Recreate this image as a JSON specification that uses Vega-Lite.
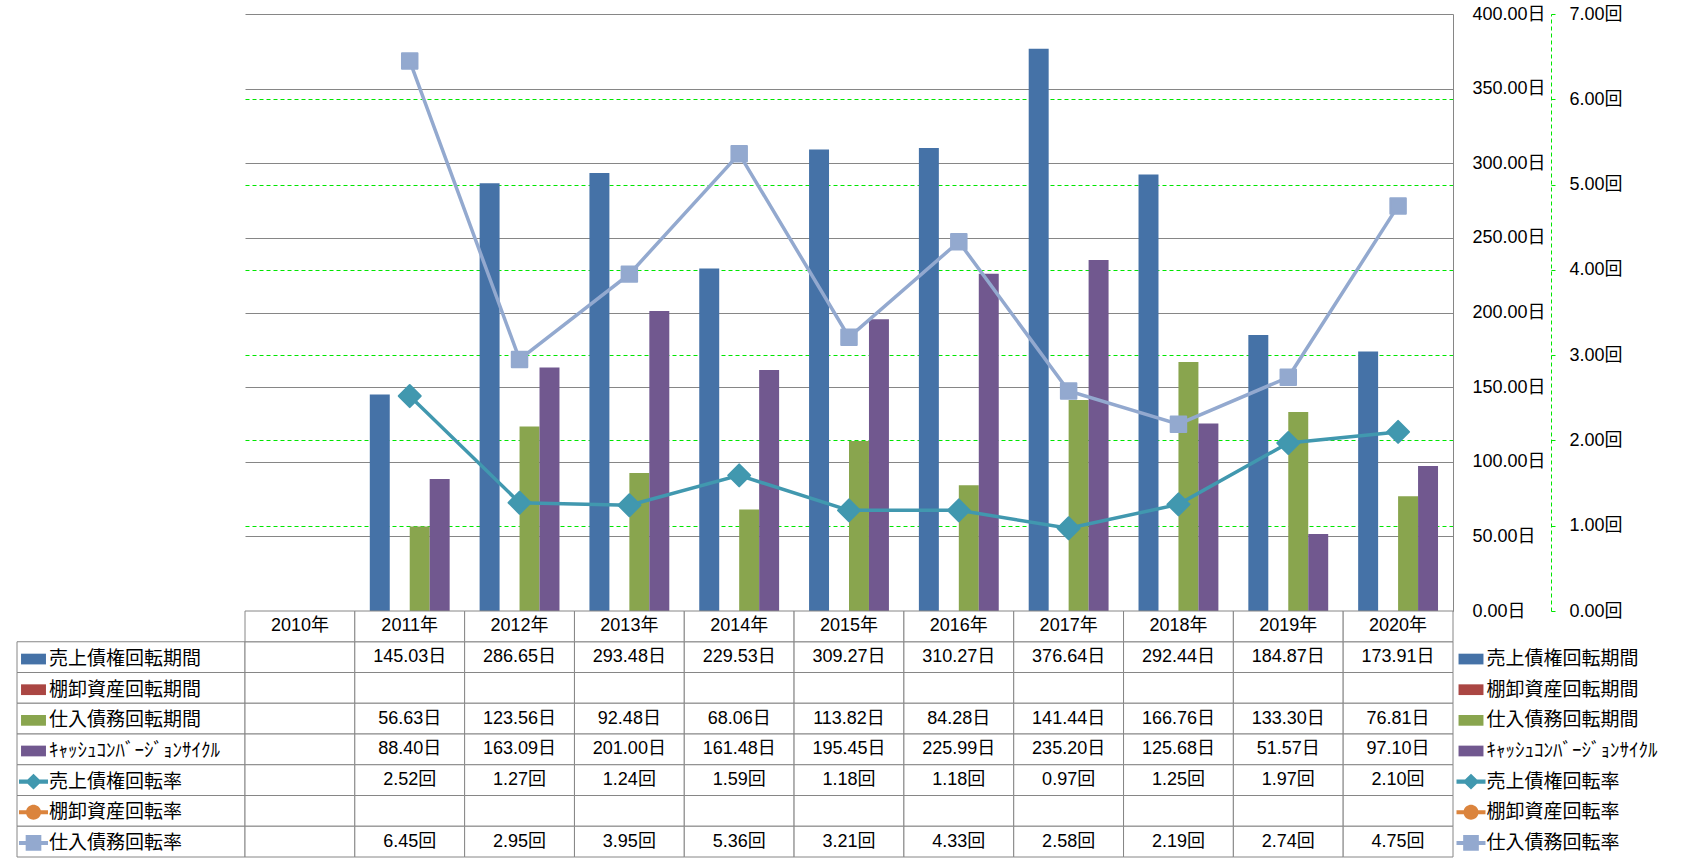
{
  "$schema": "https://vega.github.io/schema/vega-lite/v6.json",
  "padding": {"left": 16, "top": 5, "right": 0, "bottom": 0},
  "background": "white",
  "config": {"view": {"stroke": null}, "font": "Liberation Sans"},
  "columns": 2,
  "spacing": 0,
  "bounds": "flush",
  "resolve": {"scale": {"color": "independent", "shape": "independent"}, "legend": {"color": "independent", "shape": "independent"}},
  "datasets": {
    "main": [
      {"year": "2010年", "series": "売上債権回転期間", "v": null},
      {"year": "2011年", "series": "売上債権回転期間", "v": 145.03},
      {"year": "2012年", "series": "売上債権回転期間", "v": 286.65},
      {"year": "2013年", "series": "売上債権回転期間", "v": 293.48},
      {"year": "2014年", "series": "売上債権回転期間", "v": 229.53},
      {"year": "2015年", "series": "売上債権回転期間", "v": 309.27},
      {"year": "2016年", "series": "売上債権回転期間", "v": 310.27},
      {"year": "2017年", "series": "売上債権回転期間", "v": 376.64},
      {"year": "2018年", "series": "売上債権回転期間", "v": 292.44},
      {"year": "2019年", "series": "売上債権回転期間", "v": 184.87},
      {"year": "2020年", "series": "売上債権回転期間", "v": 173.91},
      {"year": "2010年", "series": "棚卸資産回転期間", "v": null},
      {"year": "2011年", "series": "棚卸資産回転期間", "v": null},
      {"year": "2012年", "series": "棚卸資産回転期間", "v": null},
      {"year": "2013年", "series": "棚卸資産回転期間", "v": null},
      {"year": "2014年", "series": "棚卸資産回転期間", "v": null},
      {"year": "2015年", "series": "棚卸資産回転期間", "v": null},
      {"year": "2016年", "series": "棚卸資産回転期間", "v": null},
      {"year": "2017年", "series": "棚卸資産回転期間", "v": null},
      {"year": "2018年", "series": "棚卸資産回転期間", "v": null},
      {"year": "2019年", "series": "棚卸資産回転期間", "v": null},
      {"year": "2020年", "series": "棚卸資産回転期間", "v": null},
      {"year": "2010年", "series": "仕入債務回転期間", "v": null},
      {"year": "2011年", "series": "仕入債務回転期間", "v": 56.63},
      {"year": "2012年", "series": "仕入債務回転期間", "v": 123.56},
      {"year": "2013年", "series": "仕入債務回転期間", "v": 92.48},
      {"year": "2014年", "series": "仕入債務回転期間", "v": 68.06},
      {"year": "2015年", "series": "仕入債務回転期間", "v": 113.82},
      {"year": "2016年", "series": "仕入債務回転期間", "v": 84.28},
      {"year": "2017年", "series": "仕入債務回転期間", "v": 141.44},
      {"year": "2018年", "series": "仕入債務回転期間", "v": 166.76},
      {"year": "2019年", "series": "仕入債務回転期間", "v": 133.30},
      {"year": "2020年", "series": "仕入債務回転期間", "v": 76.81},
      {"year": "2010年", "series": "ｷｬｯｼｭｺﾝﾊﾞｰｼﾞｮﾝｻｲｸﾙ", "v": null},
      {"year": "2011年", "series": "ｷｬｯｼｭｺﾝﾊﾞｰｼﾞｮﾝｻｲｸﾙ", "v": 88.40},
      {"year": "2012年", "series": "ｷｬｯｼｭｺﾝﾊﾞｰｼﾞｮﾝｻｲｸﾙ", "v": 163.09},
      {"year": "2013年", "series": "ｷｬｯｼｭｺﾝﾊﾞｰｼﾞｮﾝｻｲｸﾙ", "v": 201.00},
      {"year": "2014年", "series": "ｷｬｯｼｭｺﾝﾊﾞｰｼﾞｮﾝｻｲｸﾙ", "v": 161.48},
      {"year": "2015年", "series": "ｷｬｯｼｭｺﾝﾊﾞｰｼﾞｮﾝｻｲｸﾙ", "v": 195.45},
      {"year": "2016年", "series": "ｷｬｯｼｭｺﾝﾊﾞｰｼﾞｮﾝｻｲｸﾙ", "v": 225.99},
      {"year": "2017年", "series": "ｷｬｯｼｭｺﾝﾊﾞｰｼﾞｮﾝｻｲｸﾙ", "v": 235.20},
      {"year": "2018年", "series": "ｷｬｯｼｭｺﾝﾊﾞｰｼﾞｮﾝｻｲｸﾙ", "v": 125.68},
      {"year": "2019年", "series": "ｷｬｯｼｭｺﾝﾊﾞｰｼﾞｮﾝｻｲｸﾙ", "v": 51.57},
      {"year": "2020年", "series": "ｷｬｯｼｭｺﾝﾊﾞｰｼﾞｮﾝｻｲｸﾙ", "v": 97.10},
      {"year": "2010年", "series": "売上債権回転率", "v": null},
      {"year": "2011年", "series": "売上債権回転率", "v": 2.52},
      {"year": "2012年", "series": "売上債権回転率", "v": 1.27},
      {"year": "2013年", "series": "売上債権回転率", "v": 1.24},
      {"year": "2014年", "series": "売上債権回転率", "v": 1.59},
      {"year": "2015年", "series": "売上債権回転率", "v": 1.18},
      {"year": "2016年", "series": "売上債権回転率", "v": 1.18},
      {"year": "2017年", "series": "売上債権回転率", "v": 0.97},
      {"year": "2018年", "series": "売上債権回転率", "v": 1.25},
      {"year": "2019年", "series": "売上債権回転率", "v": 1.97},
      {"year": "2020年", "series": "売上債権回転率", "v": 2.10},
      {"year": "2010年", "series": "棚卸資産回転率", "v": null},
      {"year": "2011年", "series": "棚卸資産回転率", "v": null},
      {"year": "2012年", "series": "棚卸資産回転率", "v": null},
      {"year": "2013年", "series": "棚卸資産回転率", "v": null},
      {"year": "2014年", "series": "棚卸資産回転率", "v": null},
      {"year": "2015年", "series": "棚卸資産回転率", "v": null},
      {"year": "2016年", "series": "棚卸資産回転率", "v": null},
      {"year": "2017年", "series": "棚卸資産回転率", "v": null},
      {"year": "2018年", "series": "棚卸資産回転率", "v": null},
      {"year": "2019年", "series": "棚卸資産回転率", "v": null},
      {"year": "2020年", "series": "棚卸資産回転率", "v": null},
      {"year": "2010年", "series": "仕入債務回転率", "v": null},
      {"year": "2011年", "series": "仕入債務回転率", "v": 6.45},
      {"year": "2012年", "series": "仕入債務回転率", "v": 2.95},
      {"year": "2013年", "series": "仕入債務回転率", "v": 3.95},
      {"year": "2014年", "series": "仕入債務回転率", "v": 5.36},
      {"year": "2015年", "series": "仕入債務回転率", "v": 3.21},
      {"year": "2016年", "series": "仕入債務回転率", "v": 4.33},
      {"year": "2017年", "series": "仕入債務回転率", "v": 2.58},
      {"year": "2018年", "series": "仕入債務回転率", "v": 2.19},
      {"year": "2019年", "series": "仕入債務回転率", "v": 2.74},
      {"year": "2020年", "series": "仕入債務回転率", "v": 4.75}
    ]
  },
  "concat": [
    {
      "width": 228, "height": 597,
      "data": {"values": [{"k": ""}]},
      "mark": {"type": "text"},
      "encoding": {"text": {"field": "k"}}
    },
    {
      "width": 1208, "height": 597,
      "data": {"name": "main"},
      "encoding": {
        "x": {"field": "year", "type": "nominal", "scale": {"domain": ["2010年","2011年","2012年","2013年","2014年","2015年","2016年","2017年","2018年","2019年","2020年"], "paddingInner": 0, "paddingOuter": 0}, "axis": null}
      },
      "layer": [
        {
          "transform": [{"filter": "datum.v != null && !test(/率$/, datum.series)"}],
          "mark": {"type": "bar"},
          "encoding": {
            "xOffset": {"field": "series", "type": "nominal", "scale": {"domain": ["売上債権回転期間","棚卸資産回転期間","仕入債務回転期間","ｷｬｯｼｭｺﾝﾊﾞｰｼﾞｮﾝｻｲｸﾙ"], "paddingInner": 0, "paddingOuter": 0.75}},
            "y": {"field": "v", "type": "quantitative", "scale": {"domain": [0, 400], "nice": false},
              "axis": {"orient": "right", "values": [0,50,100,150,200,250,300,350,400], "labelExpr": "format(datum.value, '.2f') + '日'", "title": null,
                "grid": true, "gridColor": "#868686", "gridWidth": 1,
                "domain": true, "domainColor": "#868686", "domainWidth": 1,
                "ticks": false, "tickSize": 0, "labelPadding": 19, "labelAlign": "left",
                "labelFont": "Liberation Sans, Noto Sans CJK JP", "labelFontSize": 18, "labelColor": "#000000", "labelOverlap": false, "labelFlush": false, "labelBound": false}},
            "color": {"field": "series", "type": "nominal", "scale": {"domain": ["売上債権回転期間","棚卸資産回転期間","仕入債務回転期間","ｷｬｯｼｭｺﾝﾊﾞｰｼﾞｮﾝｻｲｸﾙ","売上債権回転率","棚卸資産回転率","仕入債務回転率"], "range": ["#4572A7","#AA4643","#89A54E","#71588F","#4198AF","#DB843D","#93A9CF"]}, "legend": null}
          }
        },
        {
          "transform": [{"filter": "datum.v != null && test(/率$/, datum.series)"}],
          "encoding": {
            "y": {"field": "v", "type": "quantitative", "scale": {"domain": [0, 7], "nice": false},
              "axis": {"orient": "right", "offset": 98, "values": [0,1,2,3,4,5,6,7], "labelExpr": "format(datum.value, '.2f') + '回'", "title": null,
                "grid": true, "gridColor": "#00E600", "gridWidth": 1, "gridDash": [4, 3],
                "gridOpacity": {"condition": {"test": "datum.value == 0 || datum.value == 7", "value": 0}, "value": 1},
                "domain": true, "domainColor": "#00E600", "domainWidth": 1, "domainDash": [4, 3],
                "ticks": true, "tickColor": "#00E600", "tickSize": 4, "tickWidth": 1,
                "labelPadding": 14, "labelAlign": "left",
                "labelFont": "Liberation Sans, Noto Sans CJK JP", "labelFontSize": 18, "labelColor": "#000000", "labelOverlap": false, "labelFlush": false, "labelBound": false}}
          },
          "layer": [
            {
              "mark": {"type": "line", "strokeWidth": 3.5},
              "encoding": {"color": {"field": "series", "type": "nominal", "scale": {"domain": ["売上債権回転期間","棚卸資産回転期間","仕入債務回転期間","ｷｬｯｼｭｺﾝﾊﾞｰｼﾞｮﾝｻｲｸﾙ","売上債権回転率","棚卸資産回転率","仕入債務回転率"], "range": ["#4572A7","#AA4643","#89A54E","#71588F","#4198AF","#DB843D","#93A9CF"]}, "legend": null}}
            },
            {
              "transform": [{"filter": "datum.series == '売上債権回転率'"}],
              "mark": {"type": "point", "shape": "diamond", "filled": true, "fill": "#4198AF", "stroke": "#4198AF", "strokeWidth": 2, "strokeJoin": "round", "size": 484, "opacity": 1}
            },
            {
              "transform": [{"filter": "datum.series == '仕入債務回転率'"}],
              "mark": {"type": "point", "shape": "square", "filled": true, "fill": "#93A9CF", "stroke": "#93A9CF", "strokeWidth": 2, "strokeJoin": "round", "size": 240, "opacity": 1}
            }
          ]
        }
      ],
      "resolve": {"scale": {"y": "independent"}}
    },
    {
      "width": 228, "height": 246,
      "data": {"name": "main"},
      "transform": [{"filter": "datum.year == '2010年'"}],
      "encoding": {
        "y": {"field": "series", "type": "nominal", "scale": {"domain": ["hdr","売上債権回転期間","棚卸資産回転期間","仕入債務回転期間","ｷｬｯｼｭｺﾝﾊﾞｰｼﾞｮﾝｻｲｸﾙ","売上債権回転率","棚卸資産回転率","仕入債務回転率"], "paddingInner": 0, "paddingOuter": 0}, "axis": null}
      },
      "layer": [
        {
          "mark": {"type": "point", "filled": true, "opacity": 1},
          "encoding": {
            "color": {"field": "series", "type": "nominal", "scale": {"domain": ["売上債権回転期間","棚卸資産回転期間","仕入債務回転期間","ｷｬｯｼｭｺﾝﾊﾞｰｼﾞｮﾝｻｲｸﾙ","売上債権回転率","棚卸資産回転率","仕入債務回転率"], "range": ["#4572A7","#AA4643","#89A54E","#71588F","#4198AF","#DB843D","#93A9CF"]},
              "legend": {"orient": "none", "legendX": 2, "legendY": 33.55, "direction": "vertical", "title": null, "padding": 0, "rowPadding": 5.65, "symbolSize": 841, "symbolStrokeWidth": 0, "symbolOpacity": 1, "labelFont": "Noto Sans CJK JP", "labelFontSize": 19, "labelColor": "#000000", "labelOffset": 1, "labelLimit": 400}},
            "shape": {"field": "series", "type": "nominal", "scale": {"domain": ["売上債権回転期間","棚卸資産回転期間","仕入債務回転期間","ｷｬｯｼｭｺﾝﾊﾞｰｼﾞｮﾝｻｲｸﾙ","売上債権回転率","棚卸資産回転率","仕入債務回転率"], "range": [
                "M-0.86,-0.37H0.86V0.37H-0.86Z",
                "M-0.86,-0.37H0.86V0.37H-0.86Z",
                "M-0.86,-0.37H0.86V0.37H-0.86Z",
                "M-0.86,-0.37H0.86V0.37H-0.86Z",
                "M-1,-0.14H-0.41L0,-0.55L0.41,-0.14H1V0.14H0.41L0,0.55L-0.41,0.14H-1Z",
                "M-1,-0.14H-0.5A0.52,0.52 0 0 1 0.5,-0.14H1V0.14H0.5A0.52,0.52 0 0 1 -0.5,0.14H-1Z",
                "M-1,-0.14H-0.54V-0.54H0.54V-0.14H1V0.14H0.54V0.54H-0.54V0.14H-1Z"]},
              "legend": {"orient": "none", "legendX": 2, "legendY": 33.55, "direction": "vertical", "title": null, "padding": 0, "rowPadding": 5.65, "symbolSize": 841, "symbolStrokeWidth": 0, "symbolOpacity": 1, "labelFont": "Noto Sans CJK JP", "labelFontSize": 19, "labelColor": "#000000", "labelOffset": 1, "labelLimit": 400}}
          }
        },
        {
          "mark": {"type": "rect", "fill": "white", "stroke": "#868686", "strokeWidth": 1}
        }
      ]
    },
    {
      "width": 1208, "height": 246,
      "data": {"name": "main"},
      "encoding": {
        "x": {"field": "year", "type": "nominal", "scale": {"domain": ["2010年","2011年","2012年","2013年","2014年","2015年","2016年","2017年","2018年","2019年","2020年"], "paddingInner": 0, "paddingOuter": 0}, "axis": null},
        "y": {"field": "series", "type": "nominal", "scale": {"domain": ["hdr","売上債権回転期間","棚卸資産回転期間","仕入債務回転期間","ｷｬｯｼｭｺﾝﾊﾞｰｼﾞｮﾝｻｲｸﾙ","売上債権回転率","棚卸資産回転率","仕入債務回転率"], "paddingInner": 0, "paddingOuter": 0}, "axis": null}
      },
      "layer": [
        {
          "transform": [{"filter": "datum.year == '2010年'"}],
          "mark": {"type": "point", "filled": true, "opacity": 1},
          "encoding": {
            "color": {"field": "series", "type": "nominal", "scale": {"domain": ["売上債権回転期間","棚卸資産回転期間","仕入債務回転期間","ｷｬｯｼｭｺﾝﾊﾞｰｼﾞｮﾝｻｲｸﾙ","売上債権回転率","棚卸資産回転率","仕入債務回転率"], "range": ["#4572A7","#AA4643","#89A54E","#71588F","#4198AF","#DB843D","#93A9CF"]},
              "legend": {"orient": "none", "legendX": 1211.5, "legendY": 33.55, "direction": "vertical", "title": null, "padding": 0, "rowPadding": 5.65, "symbolSize": 841, "symbolStrokeWidth": 0, "symbolOpacity": 1, "labelFont": "Noto Sans CJK JP", "labelFontSize": 19, "labelColor": "#000000", "labelOffset": 1, "labelLimit": 400}},
            "shape": {"field": "series", "type": "nominal", "scale": {"domain": ["売上債権回転期間","棚卸資産回転期間","仕入債務回転期間","ｷｬｯｼｭｺﾝﾊﾞｰｼﾞｮﾝｻｲｸﾙ","売上債権回転率","棚卸資産回転率","仕入債務回転率"], "range": [
                "M-0.86,-0.37H0.86V0.37H-0.86Z",
                "M-0.86,-0.37H0.86V0.37H-0.86Z",
                "M-0.86,-0.37H0.86V0.37H-0.86Z",
                "M-0.86,-0.37H0.86V0.37H-0.86Z",
                "M-1,-0.14H-0.41L0,-0.55L0.41,-0.14H1V0.14H0.41L0,0.55L-0.41,0.14H-1Z",
                "M-1,-0.14H-0.5A0.52,0.52 0 0 1 0.5,-0.14H1V0.14H0.5A0.52,0.52 0 0 1 -0.5,0.14H-1Z",
                "M-1,-0.14H-0.54V-0.54H0.54V-0.14H1V0.14H0.54V0.54H-0.54V0.14H-1Z"]},
              "legend": {"orient": "none", "legendX": 1211.5, "legendY": 33.55, "direction": "vertical", "title": null, "padding": 0, "rowPadding": 5.65, "symbolSize": 841, "symbolStrokeWidth": 0, "symbolOpacity": 1, "labelFont": "Noto Sans CJK JP", "labelFontSize": 19, "labelColor": "#000000", "labelOffset": 1, "labelLimit": 400}}
          }
        },
        {
          "mark": {"type": "rect", "fill": "white", "stroke": "#868686", "strokeWidth": 1}
        },
        {
          "transform": [{"filter": "datum.series == '売上債権回転期間'"}],
          "mark": {"type": "rect", "fill": "white", "stroke": "#868686", "strokeWidth": 1},
          "encoding": {"y": {"datum": "hdr"}}
        },
        {
          "transform": [{"filter": "datum.v != null"}, {"calculate": "format(datum.v, '.2f') + (test(/率$/, datum.series) ? '回' : '日')", "as": "label"}],
          "mark": {"type": "text", "font": "Liberation Sans, Noto Sans CJK JP", "fontSize": 18, "color": "#000000"},
          "encoding": {"text": {"field": "label"}}
        },
        {
          "transform": [{"filter": "datum.series == '売上債権回転期間'"}],
          "mark": {"type": "text", "font": "Liberation Sans, Noto Sans CJK JP", "fontSize": 18, "color": "#000000"},
          "encoding": {"y": {"datum": "hdr"}, "text": {"field": "year"}}
        }
      ]
    }
  ]
}
